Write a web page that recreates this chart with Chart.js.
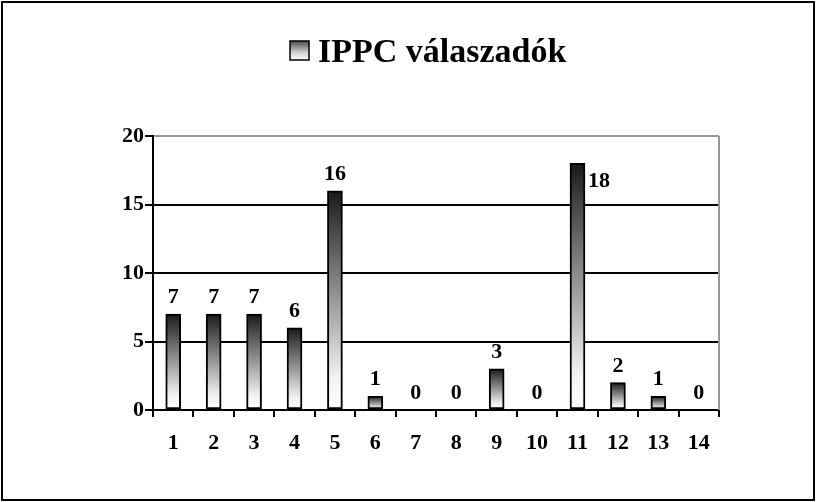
<!DOCTYPE html>
<html>
<head>
<meta charset="utf-8">
<script src="https://cdn.jsdelivr.net/npm/chart.js@4"></script>
<style>
  html, body { margin: 0; padding: 0; background: #fff; }
  #wrap { width: 816px; height: 502px; }
</style>
</head>
<body>
<div id="wrap"><canvas id="c" width="816" height="502"></canvas></div>
<script>
const categories = ['1','2','3','4','5','6','7','8','9','10','11','12','13','14'];
const values = [7, 7, 7, 6, 16, 1, 0, 0, 3, 0, 18, 2, 1, 0];
const seriesLabel = 'IPPC válaszadók';
const yMin = 0, yMax = 20, yStep = 5;

const SERIF = '"Liberation Serif", "DejaVu Serif", serif';

function barGradient(ctx) {
  const chart = ctx.chart;
  const y = chart.scales && chart.scales.y;
  if (!chart.chartArea || !y || ctx.raw === undefined) return '#888';
  const top = y.getPixelForValue(ctx.raw);
  const base = y.getPixelForValue(0);
  if (base - top < 1) return '#fff';
  const g = chart.ctx.createLinearGradient(0, top, 0, base);
  g.addColorStop(0, '#1a1a1a');
  g.addColorStop(0.45, '#8c8c8c');
  g.addColorStop(0.85, '#f2f2f2');
  g.addColorStop(1, '#ffffff');
  return g;
}

const decor = {
  id: 'decor',
  afterDraw(chart) {
    const ctx = chart.ctx;
    const a = chart.chartArea;
    ctx.save();
    // right edge of plot area (gray)
    ctx.strokeStyle = '#999';
    ctx.lineWidth = 2;
    ctx.beginPath();
    ctx.moveTo(a.right, a.top);
    ctx.lineTo(a.right, a.bottom);
    ctx.stroke();
    // outer frame
    ctx.strokeStyle = '#000';
    ctx.lineWidth = 2;
    ctx.strokeRect(2, 2, chart.width - 4, chart.height - 4);
    // legend (box + series label)
    const bx = 290, by = 41, bs = 19;
    const g = ctx.createLinearGradient(0, by, 0, by + bs);
    g.addColorStop(0, '#4a4a4a');
    g.addColorStop(0.6, '#cfcfcf');
    g.addColorStop(1, '#ffffff');
    ctx.fillStyle = g;
    ctx.fillRect(bx, by, bs, bs);
    ctx.strokeStyle = '#000';
    ctx.lineWidth = 1.5;
    ctx.strokeRect(bx, by, bs, bs);
    ctx.fillStyle = '#000';
    ctx.font = 'bold 34px ' + SERIF;
    ctx.textAlign = 'left';
    ctx.textBaseline = 'alphabetic';
    ctx.fillText(chart.data.datasets[0].label, 318, 62);
    ctx.restore();
  },
  afterDatasetsDraw(chart) {
    const ctx = chart.ctx;
    const meta = chart.getDatasetMeta(0);
    const a = chart.chartArea;
    ctx.save();
    ctx.fillStyle = '#000';
    ctx.font = 'bold 22px ' + SERIF;
    ctx.textBaseline = 'alphabetic';
    meta.data.forEach((bar, i) => {
      const v = chart.data.datasets[0].data[i];
      const txt = String(v);
      if (bar.y - 30 < a.top) {
        ctx.textAlign = 'left';
        ctx.fillText(txt, bar.x + bar.width / 2 + 3, bar.y + 24);
      } else {
        ctx.textAlign = 'center';
        ctx.fillText(txt, bar.x, bar.y - 11);
      }
    });
    ctx.restore();
  }
};

new Chart(document.getElementById('c'), {
  type: 'bar',
  data: {
    labels: categories,
    datasets: [{
      label: seriesLabel,
      data: values,
      backgroundColor: barGradient,
      borderColor: '#000',
      borderWidth: 2,
      borderSkipped: false,
      barThickness: 15
    }]
  },
  options: {
    responsive: false,
    animation: false,
    devicePixelRatio: 1,
    layout: { padding: { left: 93, right: 97, top: 136, bottom: 42 } },
    plugins: {
      legend: { display: false },
      tooltip: { enabled: false },
      title: { display: false }
    },
    scales: {
      x: {
        type: 'category',
        offset: true,
        afterFit(s) { s.height = 50; },
        grid: {
          display: true,
          offset: true,
          drawOnChartArea: false,
          drawTicks: true,
          tickLength: 7,
          tickColor: '#000',
          tickWidth: 2,
          lineWidth: 2
        },
        border: { display: true, color: '#000', width: 2 },
        ticks: {
          color: '#000',
          padding: 13,
          font: { family: SERIF, size: 22, weight: 'bold' }
        }
      },
      y: {
        min: yMin,
        max: yMax,
        afterFit(s) { s.width = 60; },
        grid: {
          color: (c) => (c.tick && c.tick.value === yMax ? '#999' : '#000'),
          lineWidth: 2,
          drawTicks: true,
          tickLength: 8,
          tickColor: '#000',
          tickWidth: 2
        },
        border: { display: true, color: '#000', width: 2 },
        ticks: {
          stepSize: yStep,
          color: '#000',
          padding: 1,
          font: { family: SERIF, size: 22, weight: 'bold' }
        }
      }
    }
  },
  plugins: [decor]
});
</script>
</body>
</html>
